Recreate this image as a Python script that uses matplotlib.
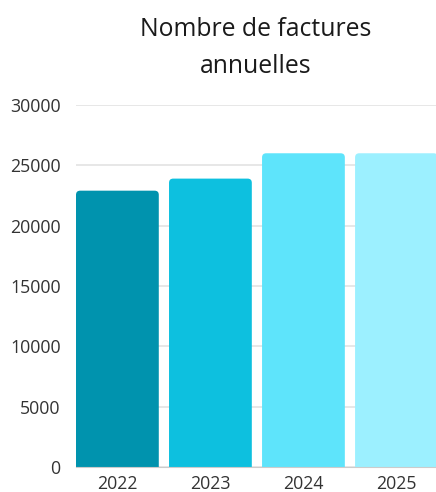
import matplotlib
matplotlib.use('Agg')
import matplotlib.pyplot as plt
from matplotlib.patches import FancyBboxPatch

years = ['2022', '2023', '2024', '2025']
factures = [22900, 23900, 26000, 26000]
couleurs = ['#0093ae', '#0dc0df', '#5ee4fb', '#9cf0ff']
titre = ['Nombre de factures', 'annuelles']

plt.rcParams['font.family'] = ['Open Sans', 'DejaVu Sans']

fig = plt.figure(figsize=(4.36, 4.92), dpi=100)
ax = fig.add_axes([76/436, 25/492, 360/436, 362/492])

x = range(len(years))
bars = ax.bar(x, factures, width=0.89, color='none')

# barres arrondies en haut seulement (le bas passe sous 0 et est coupe)
for b, c in zip(bars, couleurs):
    p = FancyBboxPatch((b.get_x(), -2000), b.get_width(), b.get_height() + 2000,
                       boxstyle='round,pad=0,rounding_size=0.045',
                       mutation_aspect=7700, facecolor=c, edgecolor='none',
                       zorder=2)
    ax.add_patch(p)

ax.set_xlim(-0.445, 3.425)
ax.set_ylim(0, 30000)
ax.set_yticks(range(0, 30001, 5000))
ax.set_xticks(list(x))
ax.set_xticklabels(years)

ax.grid(axis='y', color='#e3e3e3', linewidth=1.2, zorder=0)
ax.set_axisbelow(True)
for s in ['top', 'right', 'left']:
    ax.spines[s].set_visible(False)
ax.spines['bottom'].set_color('#cccccc')
ax.spines['bottom'].set_zorder(3)
ax.tick_params(axis='both', length=0, labelsize=12.8, colors='#333333')
ax.tick_params(axis='x', pad=6)
ax.tick_params(axis='y', pad=11)

# titre sur deux lignes, centre sur la zone du graphe
fig.text(256/436, 1 - 36/492, titre[0], fontsize=17.8, color='#1a1a1a',
         ha='center', va='baseline')
fig.text(256/436, 1 - 73/492, titre[1], fontsize=17.8, color='#1a1a1a',
         ha='center', va='baseline')

plt.savefig('out.png', dpi=100)
